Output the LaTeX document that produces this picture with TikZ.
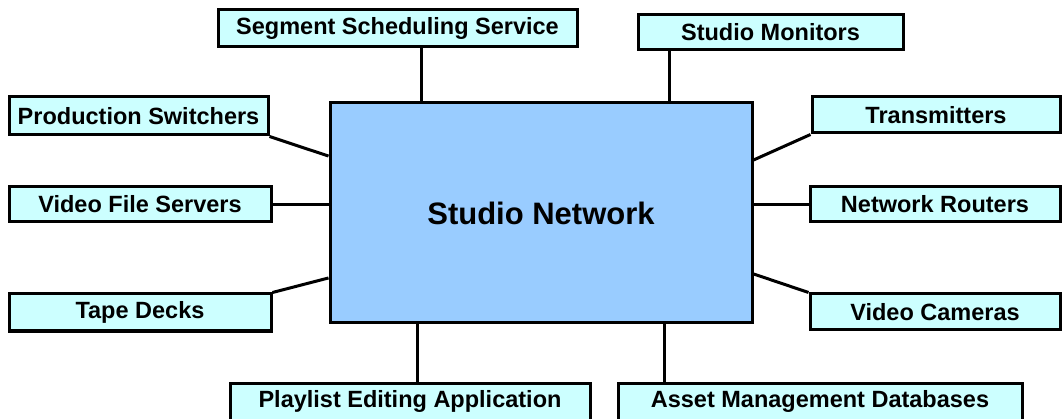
\documentclass[tikz,border=0pt]{standalone}
\usepackage{fontspec}
\setmainfont{Liberation Sans}
\definecolor{partfill}{HTML}{CCFFFF}
\definecolor{hubfill}{HTML}{99CCFF}
\begin{document}
\begin{tikzpicture}[x=1pt,y=-1pt,line width=3pt,
    part/.style={draw=black,fill=partfill,inner sep=0pt,minimum height=36pt,
      font=\bfseries\fontsize{23.5}{28}\selectfont},
    hub/.style={draw=black,fill=hubfill,inner sep=0pt,minimum width=422pt,minimum height=220pt,
      font=\bfseries\fontsize{31}{36}\selectfont}]
  \useasboundingbox (0,0) rectangle (1062,419);

  \node[hub] (net) at (541,213) {Studio Network};

  \node[part,minimum width=359pt,minimum height=37pt] (seg) at (397.5,28.5) {Segment Scheduling Service};
  \node[part,minimum width=265pt,minimum height=35pt] (mon) at (770.5,32.5) {Studio Monitors};
  \node[part,minimum width=259pt,minimum height=38pt] (ps) at (138.5,116) {Production Switchers};
  \node[part,minimum width=262pt,minimum height=35pt] (vfs) at (140,204.5) {Video File Servers};
  \node[part,minimum width=262pt,minimum height=37pt] (td) at (140,312.5) {Tape Decks};
  \node[part,minimum width=248pt] (tx) at (936,115) {Transmitters};
  \node[part,minimum width=250pt,minimum height=35pt] (nr) at (935,204.5) {Network Routers};
  \node[part,minimum width=250pt] (vc) at (935,312) {Video Cameras};
  \node[part,minimum width=360pt,minimum height=37pt] (pea) at (410,401.5) {Playlist Editing Application};
  \node[part,minimum width=404pt,minimum height=37pt] (amd) at (820,401.5) {Asset Management Databases};

  % top and bottom
  \draw (net.137.7) -- (net.137.7 |- seg.south);
  \draw (net.41.1) -- (net.41.1 |- mon.south);
  \draw (net.222.3) -- (net.222.3 |- pea.north);
  \draw (net.318.8) -- (net.318.8 |- amd.north);
  % left side
  \draw (ps.south east) -- (net.165);
  \draw (vfs.east) -- (vfs.east -| net.west);
  \draw (td.north east) -- (net.197);
  % right side
  \draw (tx.south west) -- (net.14);
  \draw (nr.west) -- (nr.west -| net.east);
  \draw (vc.north west) -- (net.344.4);
\end{tikzpicture}
\end{document}
